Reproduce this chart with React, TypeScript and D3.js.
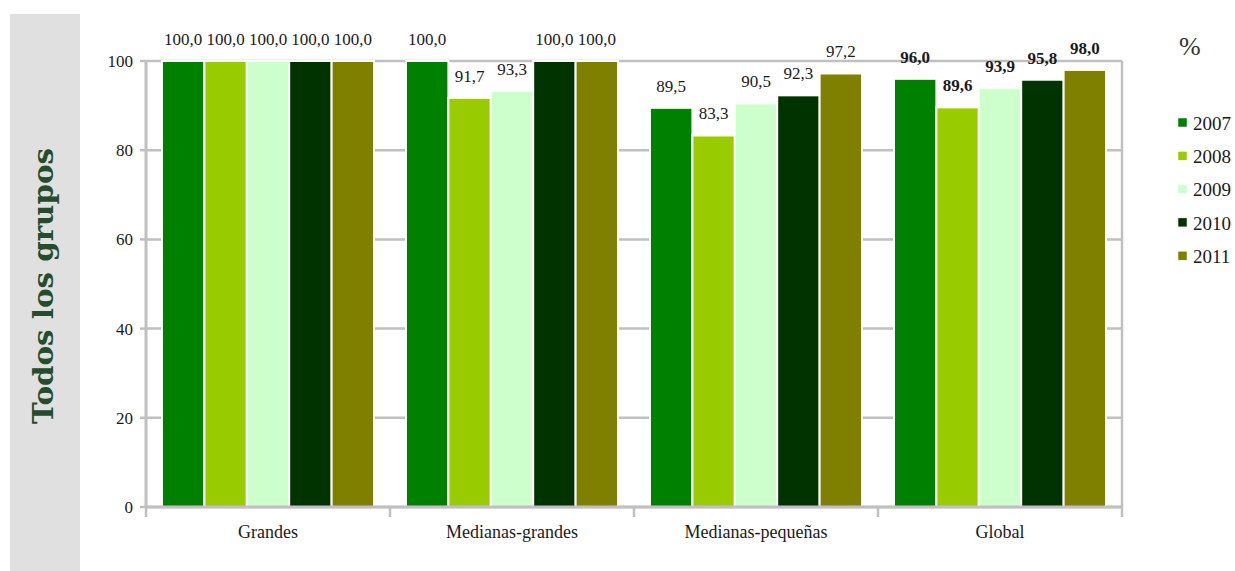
import React from "react";
import * as d3 from "d3";

const categories = ["Grandes", "Medianas-grandes", "Medianas-pequeñas", "Global"];
const years = ["2007", "2008", "2009", "2010", "2011"];
const v2007 = [100.0, 100.0, 89.5, 96.0];
const v2008 = [100.0, 91.7, 83.3, 89.6];
const v2009 = [100.0, 93.3, 90.5, 93.9];
const v2010 = [100.0, 100.0, 92.3, 95.8];
const v2011 = [100.0, 100.0, 97.2, 98.0];
const yTicks = [0, 20, 40, 60, 80, 100];
const colors = ["#008000", "#99cc00", "#ccffcc", "#003300", "#808000"];
const boldCategory = "Global";

const series = [v2007, v2008, v2009, v2010, v2011];

export default function App() {
  const W = 1235, H = 571;
  const left = 146, right = 1122, top = 61, bottom = 507;
  const x0 = d3.scaleBand<string>().domain(categories).range([left, right]).paddingInner(0).paddingOuter(0);
  const x1 = d3.scaleBand<string>().domain(years).range([0, x0.bandwidth()]).paddingInner(0).paddingOuter(0.377);
  const y = d3.scaleLinear().domain([0, 100]).range([bottom, top]);
  const fmt = (v: number) => v.toFixed(1).replace(".", ",");
  const grey = "#c0c0c0";
  const serif = "'Liberation Serif', 'Times New Roman', serif";
  const boundaries = categories.map((c) => x0(c)!).concat([right]);

  return (
    <svg width={W} height={H} style={{ position: "absolute", left: 0, top: 0, display: "block", fontFamily: serif }}>
      <rect x={0} y={0} width={W} height={H} fill="#ffffff" />
      <rect x={10} y={14} width={70} height={H - 14} fill="#e0e0e0" />
      <text
        transform={`translate(53, ${(148 + 424) / 2}) rotate(-90)`}
        textAnchor="middle"
        fontSize={27}
        fontWeight="bold"
        fill="#234d2c"
        style={{ fontFamily: "'DejaVu Serif', serif" }}
        textLength={276}
        lengthAdjust="spacingAndGlyphs"
      >
        Todos los grupos
      </text>

      {yTicks.map((t) => (
        <line key={"g" + t} x1={left} x2={right} y1={y(t)} y2={y(t)} stroke={grey} strokeWidth={2.5} />
      ))}
      <line x1={right} x2={right} y1={top} y2={bottom} stroke={grey} strokeWidth={2.5} />

      {categories.map((c, ci) => (
        <g key={c} transform={`translate(${x0(c)},0)`}>
          {years.map((yr, si) => {
            const v = series[si][ci];
            return (
              <rect
                key={yr}
                x={x1(yr)!}
                y={y(v)}
                width={x1.bandwidth()}
                height={y(0) - y(v)}
                fill={colors[si]}
                stroke="#ffffff"
                strokeWidth={2}
              />
            );
          })}
          {years.map((yr, si) => {
            const v = series[si][ci];
            return (
              <text
                key={"l" + yr}
                x={x1(yr)! + x1.bandwidth() / 2}
                y={y(v) - 16}
                textAnchor="middle"
                fontSize={17}
                fontWeight={c === boldCategory ? "bold" : "normal"}
                fill="#1a1a1a"
              >
                {fmt(v)}
              </text>
            );
          })}
        </g>
      ))}

      <line x1={left} x2={left} y1={top} y2={bottom + 1} stroke={grey} strokeWidth={3} />
      {yTicks.map((t) => (
        <g key={"t" + t}>
          <line x1={left - 6} x2={left} y1={y(t)} y2={y(t)} stroke={grey} strokeWidth={2.5} />
          <text x={133} y={y(t)} dy="0.35em" textAnchor="end" fontSize={17} fill="#1a1a1a">
            {t}
          </text>
        </g>
      ))}

      <line x1={left - 1} x2={right + 1} y1={bottom} y2={bottom} stroke={grey} strokeWidth={3} />
      {boundaries.map((b, i) => (
        <line key={"b" + i} x1={b} x2={b} y1={bottom} y2={bottom + 10} stroke={grey} strokeWidth={2.5} />
      ))}
      {categories.map((c) => (
        <text key={"c" + c} x={x0(c)! + x0.bandwidth() / 2} y={538} textAnchor="middle" fontSize={18} fill="#1a1a1a">
          {c}
        </text>
      ))}

      <text x={1179} y={55} fontSize={26} fill="#333333">%</text>
      {years.map((yr, i) => (
        <g key={"lg" + yr} transform={`translate(1178, ${123 + i * 33.3})`}>
          <rect x={0} y={-5} width={9} height={9} fill={colors[i]} stroke="#ffffff" strokeWidth={0.5} />
          <text x={15} y={0} dy="0.35em" fontSize={19} fill="#1a1a1a">
            {yr}
          </text>
        </g>
      ))}
    </svg>
  );
}
